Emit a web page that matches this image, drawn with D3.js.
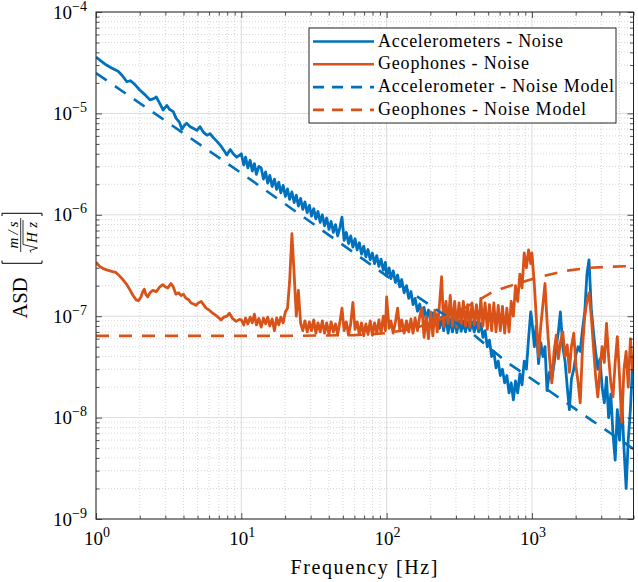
<!DOCTYPE html>
<html>
<head>
<meta charset="utf-8">
<script src="https://cdn.jsdelivr.net/npm/d3@7"></script>
<style>
  body { margin: 0; background: #fff; }
  svg { display: block; }
  text { font-family: "Liberation Serif", "Times New Roman", serif; fill: #000; }
</style>
</head>
<body>
<svg id="chart" width="638" height="582"></svg>
<script>
// 1-10 Hz part, explicit frequencies
const accFreqLow = [1.00, 1.08, 1.18, 1.28, 1.42, 1.52, 1.63, 1.72, 1.80, 1.90, 2.00, 2.15, 2.35, 2.50, 2.60, 2.75, 2.90, 3.07, 3.20, 3.40,
  3.55, 3.75, 3.90, 4.05, 4.20, 4.45, 4.70, 4.95, 5.20, 5.50, 5.80, 6.10, 6.40, 6.80, 7.30, 7.60, 7.95, 8.40, 8.80, 9.30, 9.80];
const accNoiseLow = [3.6e-5, 3.3e-5, 3.0e-5, 2.8e-5, 2.6e-5, 2.35e-5, 2.05e-5, 2.1e-5, 2.0e-5, 1.85e-5, 1.7e-5, 1.55e-5, 1.36e-5, 1.4e-5, 1.45e-5, 1.25e-5, 1.08e-5, 1.2e-5, 1.1e-5, 1.04e-5,
  9.0e-6, 8.2e-6, 7.0e-6, 7.6e-6, 8.0e-6, 7.4e-6, 7.1e-6, 6.8e-6, 7.4e-6, 6.5e-6, 6.1e-6, 6.3e-6, 5.8e-6, 5.3e-6, 4.7e-6, 4.3e-6, 3.9e-6, 4.4e-6, 4.0e-6, 3.7e-6, 3.9e-6];
const geoFreqLow = [1.00, 1.06, 1.12, 1.20, 1.30, 1.37, 1.45, 1.53, 1.61, 1.70, 1.80, 1.89, 1.96, 2.04, 2.10, 2.15, 2.20, 2.27, 2.35, 2.46,
  2.60, 2.75, 2.88, 3.00, 3.12, 3.28, 3.40, 3.55, 3.70, 3.85, 4.00, 4.16, 4.35, 4.51, 4.70, 4.88, 5.05, 5.29, 5.50, 5.72,
  6.00, 6.36, 6.80, 7.25, 7.60, 7.95, 8.29, 8.70, 9.21, 9.70];
const geoNoiseLow = [3.4e-7, 3.1e-7, 2.95e-7, 2.85e-7, 2.75e-7, 2.7e-7, 2.5e-7, 2.3e-7, 2.1e-7, 1.85e-7, 1.6e-7, 1.45e-7, 1.42e-7, 1.55e-7, 1.75e-7, 1.85e-7, 1.65e-7, 1.55e-7, 1.7e-7, 1.8e-7,
  1.75e-7, 1.95e-7, 2.05e-7, 1.95e-7, 1.9e-7, 2.1e-7, 1.95e-7, 1.65e-7, 1.7e-7, 1.6e-7, 1.65e-7, 1.5e-7, 1.45e-7, 1.35e-7, 1.32e-7, 1.28e-7, 1.35e-7, 1.4e-7, 1.3e-7, 1.2e-7,
  1.15e-7, 1.07e-7, 1.0e-7, 9.2e-8, 9.8e-8, 1.0e-7, 1.07e-7, 9.5e-8, 8.9e-8, 9.3e-8];

// frequency bins inside each decade above 10 Hz (multiplied by 10, 100, 1000)
const mantissa = [1.00, 1.04, 1.07, 1.11, 1.15, 1.19, 1.23, 1.27, 1.32, 1.37, 1.42, 1.47, 1.52, 1.57, 1.63, 1.69, 1.75, 1.81, 1.87, 1.94,
  2.01, 2.08, 2.15, 2.23, 2.31, 2.39, 2.47, 2.56, 2.65, 2.74, 2.84, 2.94, 3.04, 3.15, 3.26, 3.37, 3.49, 3.61, 3.74, 3.87,
  4.01, 4.15, 4.30, 4.45, 4.60, 4.76, 4.93, 5.10, 5.28, 5.47, 5.66, 5.86, 6.06, 6.27, 6.49, 6.72, 6.96, 7.20, 7.45, 7.71,
  7.98, 8.26, 8.55, 8.85, 9.16, 9.48, 9.81];
const decades = [10, 100, 1000];

// accelerometer noise, 10-100 Hz / 100-1000 Hz / 1000-5100 Hz
const accNoise10 = [4.0e-6, 3.1e-6, 3.7e-6, 2.9e-6, 3.45e-6, 2.7e-6, 3.2e-6, 2.5e-6, 3.0e-6, 2.9e-6,
  2.25e-6, 2.65e-6, 2.05e-6, 2.45e-6, 1.9e-6, 2.25e-6, 1.78e-6, 2.1e-6, 1.65e-6, 1.95e-6,
  1.52e-6, 1.8e-6, 1.42e-6, 1.68e-6, 1.32e-6, 1.56e-6, 1.22e-6, 1.45e-6, 1.13e-6, 1.34e-6,
  1.05e-6, 1.24e-6, 9.7e-7, 1.15e-6, 9.1e-7, 1.08e-6, 8.4e-7, 1.0e-6, 7.8e-7, 9.3e-7,
  7.2e-7, 8.6e-7, 6.7e-7, 8.0e-7, 6.2e-7, 7.4e-7, 9.5e-7, 5.6e-7, 6.7e-7, 5.2e-7,
  6.2e-7, 4.8e-7, 5.8e-7, 4.5e-7, 5.3e-7, 4.1e-7, 4.9e-7, 3.85e-7, 4.55e-7, 3.6e-7,
  4.2e-7, 3.3e-7, 3.95e-7, 3.1e-7, 3.65e-7, 2.85e-7, 3.4e-7];
const accNoise100 = [2.5e-7, 3.0e-7, 2.35e-7, 2.8e-7, 2.15e-7, 2.55e-7, 1.95e-7, 2.3e-7, 1.7e-7, 2.0e-7,
  1.5e-7, 1.75e-7, 1.3e-7, 1.5e-7, 1.12e-7, 1.32e-7, 1.0e-7, 1.22e-7, 9.4e-8, 1.15e-7,
  8.8e-8, 1.08e-7, 8.2e-8, 1.03e-7, 7.6e-8, 9.8e-8, 7.2e-8, 1.0e-7, 6.8e-8, 9.4e-8,
  7.0e-8, 9.2e-8, 6.9e-8, 9.0e-8, 7.1e-8, 9.0e-8, 7.0e-8, 8.8e-8, 7.2e-8, 8.8e-8,
  7.0e-8, 8.7e-8, 7.0e-8, 8.5e-8, 6.2e-8, 7.2e-8, 5.0e-8, 5.8e-8, 4.0e-8, 4.5e-8,
  3.1e-8, 3.6e-8, 2.6e-8, 3.0e-8, 2.2e-8, 2.6e-8, 1.75e-8, 2.2e-8, 1.5e-8, 2.3e-8,
  1.75e-8, 2.7e-8, 2.1e-8, 3.6e-8, 3.0e-8, 6.0e-8, 1.1e-7];
const accNoise1000 = [9.0e-8, 5.0e-8, 8.0e-8, 3.4e-8, 5.5e-8, 4.0e-8, 5.0e-8, 1.85e-8, 2.8e-8, 2.4e-8,
  3.4e-8, 5.0e-8, 7.0e-8, 1.1e-7, 5.0e-8, 3.6e-8, 2.0e-8, 1.2e-8, 2.4e-8, 3.0e-8,
  4.2e-8, 5.0e-8, 4.5e-8, 7.5e-8, 1.1e-7, 2.6e-7, 3.6e-7, 1.2e-7, 7.0e-8, 4.5e-8,
  3.0e-8, 3.8e-8, 2.0e-8, 1.4e-8, 2.5e-8, 1.0e-8, 1.7e-8, 7.0e-9, 3.8e-9, 1.2e-8,
  6.0e-9, 1.5e-8, 5.0e-9, 2.0e-9, 6.0e-9, 1.2e-8, 3.4e-8, 2.5e-8];

// geophone noise, same decades
const geoNoise10 = [9.2e-8, 8.2e-8, 9.6e-8, 8.4e-8, 9.8e-8, 8.6e-8, 1.05e-7, 8.2e-8, 9.5e-8, 7.8e-8,
  9.6e-8, 8.4e-8, 9.8e-8, 8.0e-8, 9.4e-8, 7.2e-8, 9.6e-8, 8.2e-8, 9.8e-8, 8.6e-8,
  1.1e-7, 1.2e-7, 2.2e-7, 6.5e-7, 2.6e-7, 1.0e-7, 1.8e-7, 8.5e-8, 7.2e-8, 9.0e-8,
  7.0e-8, 8.8e-8, 7.2e-8, 9.2e-8, 6.8e-8, 8.6e-8, 7.0e-8, 9.0e-8, 6.8e-8, 8.6e-8,
  6.6e-8, 8.8e-8, 7.0e-8, 8.4e-8, 6.6e-8, 8.6e-8, 1.2e-7, 7.2e-8, 8.8e-8, 6.5e-8,
  8.4e-8, 1.37e-7, 7.4e-8, 8.8e-8, 6.6e-8, 8.6e-8, 6.4e-8, 8.4e-8, 6.6e-8, 9.0e-8,
  6.5e-8, 8.6e-8, 6.8e-8, 9.2e-8, 6.8e-8, 1.0e-7, 7.2e-8];
const geoNoise100 = [1.55e-7, 7.6e-8, 9.0e-8, 6.8e-8, 8.8e-8, 1.2e-7, 7.4e-8, 9.2e-8, 6.8e-8, 9.0e-8,
  7.0e-8, 9.4e-8, 6.8e-8, 9.6e-8, 7.2e-8, 1.0e-7, 1.2e-7, 6.2e-8, 1.0e-7, 6.0e-8,
  1.1e-7, 6.4e-8, 1.15e-7, 7.0e-8, 1.3e-7, 2.45e-7, 8.0e-8, 1.4e-7, 8.5e-8, 1.6e-7,
  8.0e-8, 1.4e-7, 7.8e-8, 1.35e-7, 8.2e-8, 1.4e-7, 8.0e-8, 1.3e-7, 7.8e-8, 1.35e-7,
  8.2e-8, 1.3e-7, 7.6e-8, 1.5e-7, 8.0e-8, 1.35e-7, 7.4e-8, 1.3e-7, 7.2e-8, 1.35e-7,
  7.0e-8, 1.28e-7, 7.2e-8, 1.25e-7, 6.8e-8, 1.2e-7, 7.0e-8, 1.4e-7, 1.0e-7, 2.0e-7,
  1.4e-7, 2.6e-7, 1.9e-7, 4.2e-7, 3.0e-7, 4.5e-7, 3.3e-7];
const geoNoise1000 = [4.2e-7, 2.0e-7, 1.0e-7, 4.0e-8, 8.0e-8, 1.3e-7, 2.1e-7, 9.0e-8, 4.0e-8, 2.2e-8,
  4.5e-8, 6.5e-8, 3.8e-8, 5.5e-8, 7.0e-8, 4.0e-8, 5.2e-8, 2.8e-8, 5.0e-8, 6.8e-8,
  3.2e-8, 2.2e-8, 1.4e-8, 5.0e-8, 1.0e-7, 1.4e-7, 1.7e-7, 1.0e-7, 5.0e-8, 2.6e-8,
  1.6e-8, 3.0e-8, 5.0e-8, 3.5e-8, 8.5e-8, 4.0e-8, 2.2e-8, 1.6e-8, 3.5e-8, 6.3e-8,
  2.5e-8, 9.0e-9, 3.0e-8, 4.5e-8, 2.0e-8, 6.0e-8, 3.0e-8, 3.5e-8];

// noise models
const accModelFreq = [1, 10, 100, 395, 675, 1340, 2520, 5000];
const accModel = [2.5e-5, 2.58e-6, 2.5e-7, 6.6e-8, 3.5e-8, 1.8e-8, 9.6e-9, 4.9e-9];
const geoModelFreq = [1, 20, 60, 100, 150, 200, 270, 357, 450, 542, 750, 1142, 1700, 2450, 3500, 5000];
const geoModel = [6.4e-8, 6.4e-8, 6.5e-8, 6.8e-8, 7.5e-8, 8.5e-8, 1.02e-7, 1.24e-7, 1.5e-7, 1.75e-7, 2.05e-7, 2.45e-7, 2.8e-7, 3.0e-7, 3.08e-7, 3.12e-7];

const xTicks = [1, 10, 100, 1000];
const xTickExp = ['0', '1', '2', '3'];
const yTicks = [1e-9, 1e-8, 1e-7, 1e-6, 1e-5, 1e-4];
const yTickExp = ['\u22129', '\u22128', '\u22127', '\u22126', '\u22125', '\u22124'];

const legendLabels = ['Accelerometers - Noise', 'Geophones - Noise', 'Accelerometer - Noise Model', 'Geophones - Noise Model'];

const blue = '#0072BD';
const orange = '#D95319';
const axisColor = '#262626';

const pLeft = 96, pRight = 633.5, pTop = 12, pBottom = 519;
const x = d3.scaleLog().domain([1, 5000]).range([pLeft, pRight]);
const y = d3.scaleLog().domain([1e-9, 1e-4]).range([pBottom, pTop]);

const svg = d3.select('#chart');

// join the low part with the per-decade bins
const measured = (freqLow, valLow, perDecade) => {
  const pts = freqLow.map((f, i) => [f, valLow[i]]);
  perDecade.forEach((vals, k) => vals.forEach((v, i) => pts.push([decades[k] * mantissa[i], v])));
  return pts;
};
const accPoints = measured(accFreqLow, accNoiseLow, [accNoise10, accNoise100, accNoise1000]);
const geoPoints = measured(geoFreqLow, geoNoiseLow, [geoNoise10, geoNoise100, geoNoise1000]);

// minor tick positions, 2..9 within each decade
const minorX = [];
[1, 10, 100, 1000].forEach(d => { for (let m = 2; m <= 9; m++) if (d * m <= 5000) minorX.push(d * m); });
const minorY = [];
[1e-9, 1e-8, 1e-7, 1e-6, 1e-5].forEach(d => { for (let m = 2; m <= 9; m++) minorY.push(d * m); });

// grid
const grid = svg.append('g');
grid.selectAll('.mgx').data(minorX).join('line')
  .attr('x1', d => x(d)).attr('x2', d => x(d)).attr('y1', pTop).attr('y2', pBottom)
  .attr('stroke', '#c4c4c4').attr('stroke-width', 0.7).attr('stroke-dasharray', '1,2');
grid.selectAll('.mgy').data(minorY).join('line')
  .attr('y1', d => y(d)).attr('y2', d => y(d)).attr('x1', pLeft).attr('x2', pRight)
  .attr('stroke', '#c4c4c4').attr('stroke-width', 0.7).attr('stroke-dasharray', '1,2');
grid.selectAll('.gx').data(xTicks).join('line')
  .attr('x1', d => x(d)).attr('x2', d => x(d)).attr('y1', pTop).attr('y2', pBottom)
  .attr('stroke', '#dcdcdc').attr('stroke-width', 1);
grid.selectAll('.gy').data(yTicks).join('line')
  .attr('y1', d => y(d)).attr('y2', d => y(d)).attr('x1', pLeft).attr('x2', pRight)
  .attr('stroke', '#dcdcdc').attr('stroke-width', 1);

// data lines
svg.append('clipPath').attr('id', 'clip').append('rect')
  .attr('x', pLeft).attr('y', pTop).attr('width', pRight - pLeft).attr('height', pBottom - pTop);

const line = d3.line().x(d => x(d[0])).y(d => y(d[1]));
const plot = svg.append('g').attr('clip-path', 'url(#clip)');

const series = [
  { pts: accPoints, color: blue, dash: null, width: 2.8 },
  { pts: geoPoints, color: orange, dash: null, width: 2.8 },
  { pts: accModelFreq.map((f, i) => [f, accModel[i]]), color: blue, dash: '13,10', width: 2.6 },
  { pts: geoModelFreq.map((f, i) => [f, geoModel[i]]), color: orange, dash: '13,10', width: 2.6 }
];
series.forEach(s => {
  plot.append('path')
    .datum(s.pts)
    .attr('d', line)
    .attr('fill', 'none')
    .attr('stroke', s.color)
    .attr('stroke-width', s.width)
    .attr('stroke-linejoin', 'round')
    .attr('stroke-dasharray', s.dash);
});

// axes, ticks inward on all four sides
const noLabel = () => '';
function addAxis(axisFn, scale, values, size, transform) {
  const g = svg.append('g').attr('transform', transform)
    .call(axisFn(scale).tickValues(values).tickSize(size).tickSizeOuter(0).tickFormat(noLabel));
  g.select('.domain').remove();
  g.selectAll('line').attr('stroke', axisColor).attr('stroke-width', 0.8);
}
addAxis(d3.axisBottom, x, xTicks, -6, `translate(0,${pBottom})`);
addAxis(d3.axisBottom, x, minorX, -3.5, `translate(0,${pBottom})`);
addAxis(d3.axisTop, x, xTicks, -6, `translate(0,${pTop})`);
addAxis(d3.axisTop, x, minorX, -3.5, `translate(0,${pTop})`);
addAxis(d3.axisLeft, y, yTicks, -6, `translate(${pLeft},0)`);
addAxis(d3.axisLeft, y, minorY, -3.5, `translate(${pLeft},0)`);
addAxis(d3.axisRight, y, yTicks, -6, `translate(${pRight},0)`);
addAxis(d3.axisRight, y, minorY, -3.5, `translate(${pRight},0)`);

svg.append('rect')
  .attr('x', pLeft).attr('y', pTop).attr('width', pRight - pLeft).attr('height', pBottom - pTop)
  .attr('fill', 'none').attr('stroke', axisColor).attr('stroke-width', 1);

// tick labels
xTicks.forEach((t, i) => {
  const tx = svg.append('text').attr('x', x(t) + 1).attr('y', 545)
    .attr('text-anchor', 'middle').style('font-size', '19px');
  tx.append('tspan').text('10');
  tx.append('tspan').attr('dy', -8).style('font-size', '14px').text(xTickExp[i]);
});
yTicks.forEach((t, i) => {
  const ty = svg.append('text').attr('x', 87).attr('y', y(t) + 6.5)
    .attr('text-anchor', 'end').style('font-size', '19px');
  ty.append('tspan').text('10');
  ty.append('tspan').attr('dy', -8).style('font-size', '14px').text(yTickExp[i]);
});

// axis labels
svg.append('text').attr('x', 364).attr('y', 574).attr('text-anchor', 'middle')
  .attr('textLength', 147).attr('lengthAdjust', 'spacing')
  .style('font-size', '20px').text('Frequency [Hz]');

const yl = svg.append('g').attr('transform', 'translate(18,265) rotate(-90)');
yl.append('text').attr('x', -33).attr('y', 9).attr('text-anchor', 'middle')
  .attr('textLength', 41).attr('lengthAdjust', 'spacingAndGlyphs')
  .style('font-size', '20px').text('ASD');
yl.append('text').attr('x', 30).attr('y', -0.5).attr('text-anchor', 'middle')
  .attr('textLength', 27).attr('lengthAdjust', 'spacing')
  .style('font-size', '15px').style('font-style', 'italic').text('m/s');
yl.append('line').attr('x1', 13).attr('x2', 47).attr('y1', 2.7).attr('y2', 2.7)
  .attr('stroke', '#000').attr('stroke-width', 0.8);
yl.append('text').attr('x', 32.5).attr('y', 18.5).attr('text-anchor', 'middle')
  .attr('textLength', 21).attr('lengthAdjust', 'spacing')
  .style('font-size', '15px').style('font-style', 'italic').text('Hz');
// radical sign over Hz
yl.append('path').attr('d', 'M12.5,13 L14.5,12 L17,19.5 L20.5,5 L45,5')
  .attr('fill', 'none').attr('stroke', '#000').attr('stroke-width', 0.8);
// brackets around the unit fraction
yl.append('path').attr('d', 'M4.5,-16 L1.7,-16 L1.7,24 L4.5,24')
  .attr('fill', 'none').attr('stroke', '#000').attr('stroke-width', 1);
yl.append('path').attr('d', 'M49,-16 L51.7,-16 L51.7,24 L49,24')
  .attr('fill', 'none').attr('stroke', '#000').attr('stroke-width', 1);

// legend
const legend = svg.append('g');
legend.append('rect').attr('x', 309).attr('y', 28).attr('width', 307).attr('height', 95)
  .attr('fill', '#fff').attr('stroke', axisColor).attr('stroke-width', 1);
const legendWidths = [185, 151, 236, 208];
legendLabels.forEach((lab, i) => {
  const ly = 41.5 + i * 22.8;
  legend.append('line').attr('x1', 313).attr('x2', 374).attr('y1', ly).attr('y2', ly)
    .attr('stroke', series[i].color).attr('stroke-width', 2.6)
    .attr('stroke-dasharray', series[i].dash ? '11,8' : null);
  legend.append('text').attr('x', 378).attr('y', ly + 5)
    .attr('textLength', legendWidths[i]).attr('lengthAdjust', 'spacing')
    .style('font-size', '18px').text(lab);
});
</script>
</body>
</html>
